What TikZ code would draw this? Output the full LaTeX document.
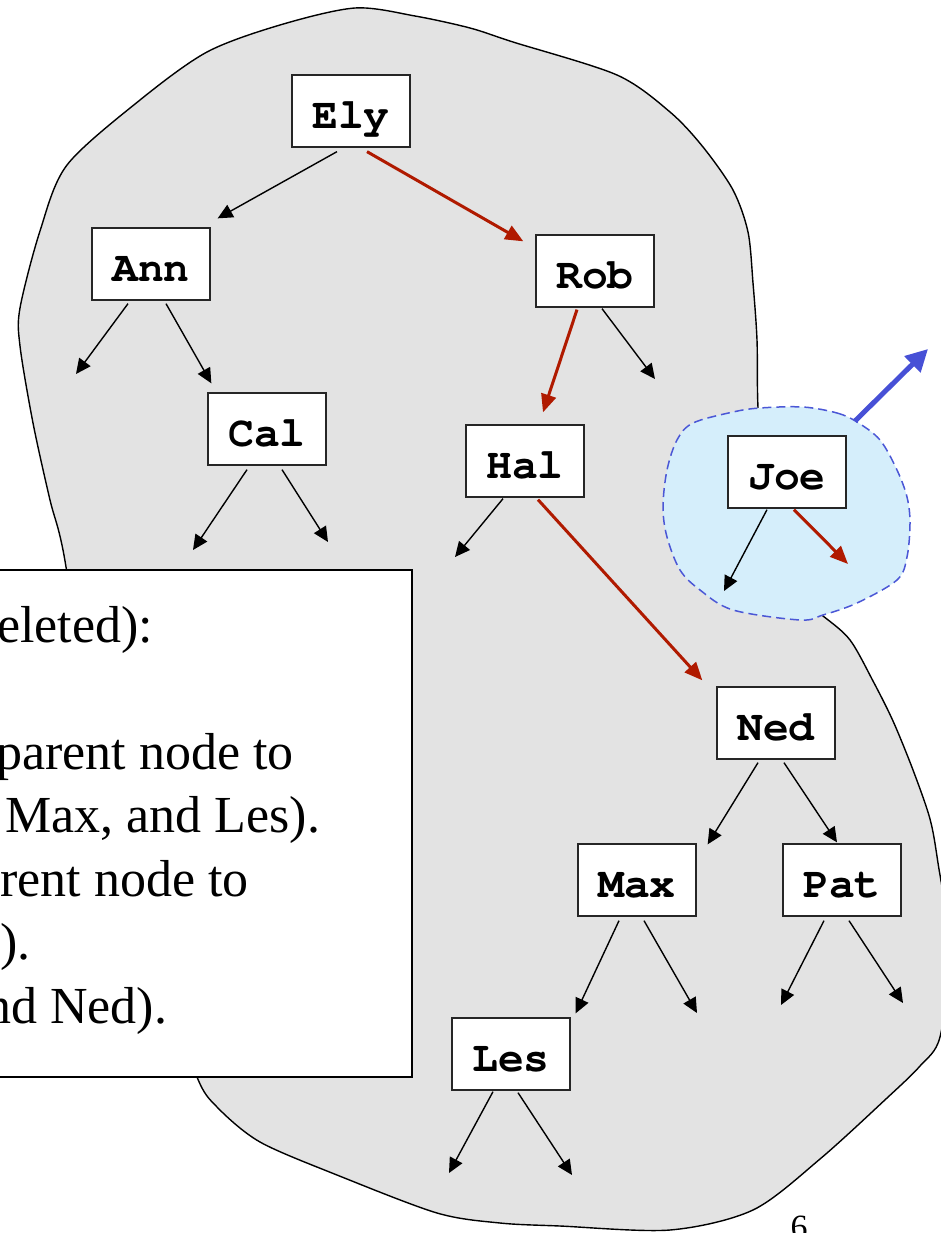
\documentclass[tikz,border=0pt]{standalone}
\usepackage{fontspec}
\setmainfont{Liberation Serif}
\newfontfamily\codefont{texgyrecursor}[Extension=.otf, UprightFont=*-regular, BoldFont=*-bold]
\usetikzlibrary{arrows.meta,calc}
\definecolor{blobgray}{RGB}{227,227,227}
\definecolor{joefill}{RGB}{213,238,251}
\definecolor{joeline}{RGB}{75,87,214}
\definecolor{pathred}{RGB}{176,26,0}
\definecolor{moveblue}{RGB}{71,80,214}
\begin{document}
\begin{tikzpicture}[x=1pt,y=-1pt,
  keybox/.style={draw=black!85, fill=white, line width=1.3pt,
    minimum width=118pt, minimum height=72pt, inner sep=0pt,
    text height=35pt, text depth=0pt,
    font=\codefont\bfseries\fontsize{43}{43}\selectfont},
  blk/.style={line width=1.4pt, -{Triangle[length=15pt,width=14pt]}},
  searchpath/.style={draw=pathred, line width=3pt, -{Triangle[length=18pt,width=15pt]}},
  moved/.style={draw=moveblue, line width=5pt, -{Triangle[length=22pt,width=22pt]}},
  noteline/.style={anchor=base west, inner sep=0pt, font=\fontsize{52}{63}\selectfont}
]
\useasboundingbox (0,0) rectangle (940,1233);

% the whole tree as one region
\draw[fill=blobgray, line width=1.4pt] plot[smooth cycle, tension=0.5] coordinates {
  (355,8) (415,16) (470,28) (513,42) (617,75) (670,112) (703,147) (733,190)
  (748,232) (753,283) (757,340) (758,408) (765,520) (780,585) (823,616) (850,640)
  (873,681) (893,721) (913,770) (930,819) (938,863) (950,950) (940,1037)
  (920,1066) (887,1098) (820,1159) (753,1210) (670,1230) (560,1226)
  (500,1223) (437,1213) (337,1175) (260,1142) (217,1107) (197,1077)
  (165,980) (90,700) (63,550) (50,500) (33,423) (20,346) (20,308) (40,231)
  (67,165) (140,100) (207,52) (280,25)};

% the subtree rooted at Joe
\draw[fill=joefill, draw=joeline, line width=1.5pt, dash pattern=on 9pt off 5pt]
  plot[smooth cycle, tension=0.55] coordinates {
  (803,407) (837,413) (857,422) (880,440) (897,470) (907,497) (910,523)
  (907,557) (897,580) (857,603) (823,615) (800,620) (733,610) (700,590)
  (680,570) (667,537) (663,507) (667,470) (677,440) (693,423) (733,412)
  (760,408)};

\coordinate (joerim) at (855,421);
\coordinate (away) at (928,349);
\draw[moved] (joerim) -- (away);

% explanation box
\draw[fill=white, line width=1.5pt] (-20,570) rectangle (412,1077);
\node[noteline] (l1) at (-3,642) {eleted):};
\node[noteline] (l3) at (-4,769) {parent node to};
\node[noteline] (l4) at (5,832.5) {Max, and Les).};
\node[noteline] (l5) at (0,896) {rent node to};
\node[noteline] (l6) at (0,959.5) {).};
\node[noteline] (l7) at (-15,1023) {nd Ned).};

% keys
\node[keybox] (ely) at (351,111) {Ely};
\node[keybox] (ann) at (151,264) {Ann};
\node[keybox] (rob) at (595,271) {Rob};
\node[keybox] (cal) at (267,429) {Cal};
\node[keybox] (hal) at (525,461) {Hal};
\node[keybox] (joe) at (787,472) {Joe};
\node[keybox] (ned) at (776,723) {Ned};
\node[keybox] (max) at (637,880) {Max};
\node[keybox] (pat) at (842,880) {Pat};
\node[keybox] (les) at (511,1054) {Les};

% empty subtrees
\coordinate (annL) at (76,374);
\coordinate (calL) at (193,550);
\coordinate (calR) at (328,542);
\coordinate (robR) at (655,379);
\coordinate (halL) at (455,557);
\coordinate (joeL) at (724,591);
\coordinate (joeR) at (848,564);
\coordinate (maxR) at (697,1013);
\coordinate (patL) at (781,1005);
\coordinate (patR) at (903,1003);
\coordinate (lesL) at (449,1173);
\coordinate (lesR) at (572,1175);

% links
\draw[blk] ($(ely.south)+(-14,4)$) -- ($(ann.north east)+(7,-9)$);
\draw[blk] ($(ann.south)+(-23,3)$) -- (annL);
\draw[blk] ($(ann.south)+(15,3)$) -- ($(cal.north west)+(4,-9)$);
\draw[blk] ($(cal.south)+(-20,4)$) -- (calL);
\draw[blk] ($(cal.south)+(15,4)$) -- (calR);
\draw[blk] ($(rob.south)+(7,1)$) -- (robR);
\draw[blk] ($(hal.south)+(-22,1)$) -- (halL);
\draw[blk] ($(joe.south)+(-20,1)$) -- (joeL);
\draw[blk] ($(ned.south)+(-18,3)$) -- ($(max.north east)+(11,1)$);
\draw[blk] ($(ned.south)+(8,3)$) -- ($(pat.north)+(-5,-1)$);
\draw[blk] ($(max.south)+(-18,4)$) -- ($(les.north east)+(5,-4)$);
\draw[blk] ($(max.south)+(7,4)$) -- (maxR);
\draw[blk] ($(pat.south)+(-18,4)$) -- (patL);
\draw[blk] ($(pat.south)+(7,4)$) -- (patR);
\draw[blk] ($(les.south)+(-18,1)$) -- (lesL);
\draw[blk] ($(les.south)+(7,2)$) -- (lesR);

% search path
\draw[searchpath] ($(ely.south)+(16,4)$) -- ($(rob.north west)+(-12,7)$);
\draw[searchpath] ($(rob.south)+(-18,2)$) -- ($(hal.north)+(18,-12)$);
\draw[searchpath] ($(hal.south)+(13,2)$) -- ($(ned.north west)+(-14,-6)$);
\draw[searchpath] ($(joe.south)+(7,1)$) -- (joeR);

% slide number
\node[anchor=base, inner sep=0pt, font=\fontsize{34}{34}\selectfont] (pg) at (799,1238) {6};
\end{tikzpicture}
\end{document}
